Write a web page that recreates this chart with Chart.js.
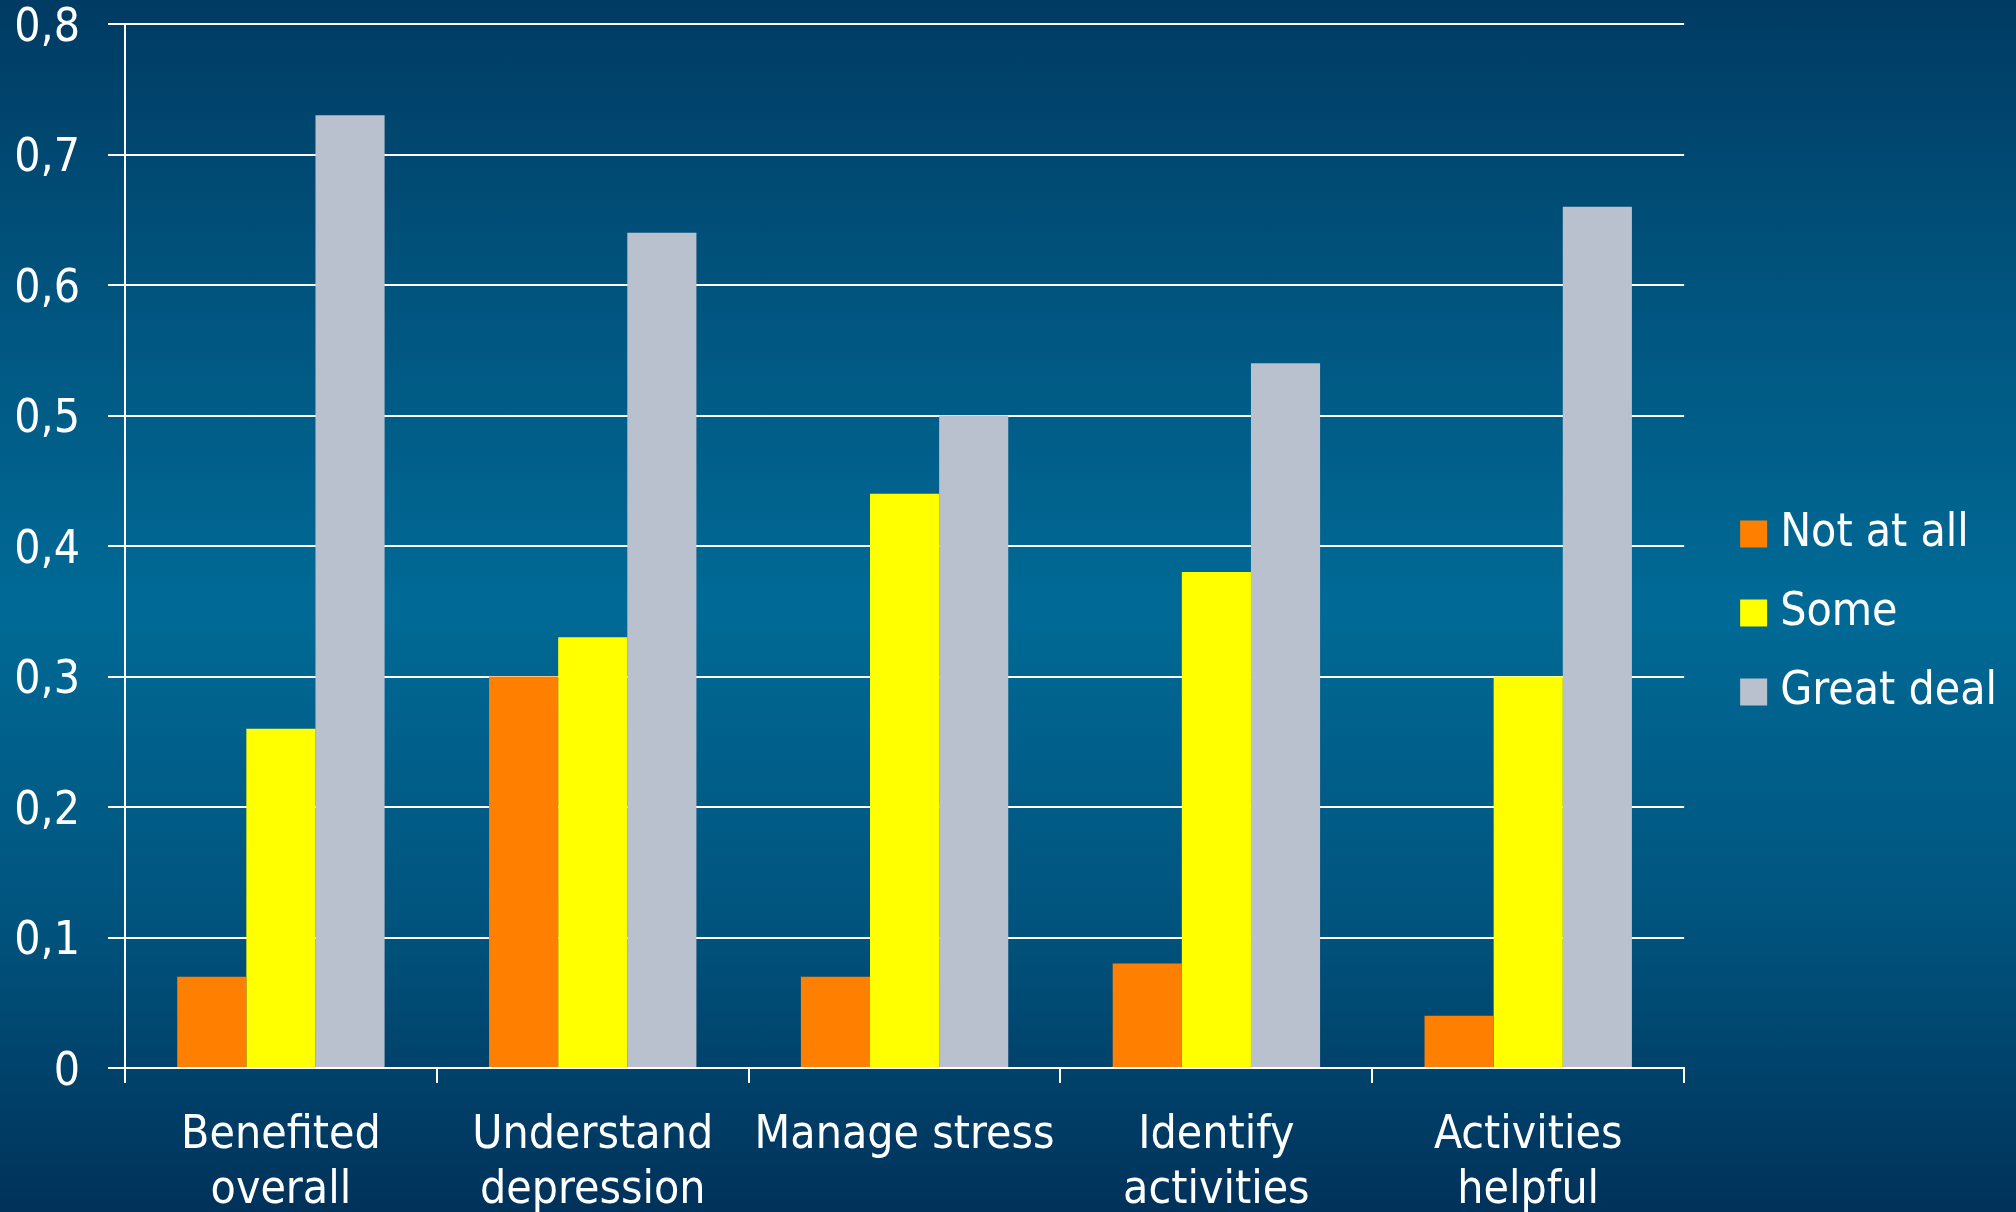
<!DOCTYPE html>
<html>
<head>
<meta charset="utf-8">
<script src="https://cdn.jsdelivr.net/npm/chart.js@4/dist/chart.umd.min.js"></script>
<style>
  html, body { margin: 0; padding: 0; }
  body {
    width: 2016px; height: 1212px; overflow: hidden;
    background: linear-gradient(to bottom, #003b63 0%, #00557f 25%, #006a96 50%, #00557f 75%, #00325a 100%);
  }
  canvas { display: block; }
</style>
</head>
<body>
<canvas id="myChart" width="2016" height="1212"></canvas>
<script>
// Categories and series values
const categories = [
  ['Benefited', 'overall'],
  ['Understand', 'depression'],
  'Manage stress',
  ['Identify', 'activities'],
  ['Activities', 'helpful'],
];
const seriesNames = ['Not at all', 'Some', 'Great deal'];
const notAtAll = [0.07, 0.30, 0.07, 0.08, 0.04];
const some = [0.26, 0.33, 0.44, 0.38, 0.30];
const greatDeal = [0.73, 0.64, 0.50, 0.54, 0.66];
const seriesColors = ['#ff8000', '#ffff00', '#b9c0ce'];

const fontFamily = '"DejaVu Sans Condensed", "DejaVu Sans", sans-serif';

// Format ticks with a comma decimal
const formatTick = (value) => (value === 0 ? '0' : value.toFixed(1).replace('.', ','));

const ctx = document.getElementById('myChart').getContext('2d');

new Chart(ctx, {
  type: 'bar',
  data: {
    labels: categories,
    datasets: [notAtAll, some, greatDeal].map((values, i) => ({
      label: seriesNames[i],
      data: values,
      backgroundColor: seriesColors[i],
      borderWidth: 0,
      barPercentage: 1,
      categoryPercentage: 0.665,
    })),
  },
  options: {
    responsive: false,
    devicePixelRatio: 1,
    animation: false,
    layout: { padding: { top: 14, right: 9 } },
    plugins: {
      tooltip: { enabled: false },
      legend: {
        position: 'right',
        labels: {
          color: '#ffffff',
          font: { family: fontFamily, size: 46 },
          usePointStyle: true,
          pointStyle: 'rect',
          boxWidth: 7,
          boxHeight: 27,
          padding: 33,
        },
      },
    },
    scales: {
      x: {
        grid: {
          display: true,
          drawOnChartArea: false,
          drawTicks: true,
          tickLength: 15,
          color: '#ffffff',
          lineWidth: 2,
          offset: true,
        },
        border: { display: true, color: '#ffffff', width: 2 },
        ticks: {
          color: '#ffffff',
          font: { family: fontFamily, size: 46, lineHeight: 1.2 },
          padding: 25,
          maxRotation: 0,
          autoSkip: false,
        },
        afterFit: (scale) => { scale.height = 144; },
      },
      y: {
        min: 0,
        max: 0.8,
        grid: {
          color: '#ffffff',
          lineWidth: 2,
          tickLength: 17,
          drawTicks: true,
        },
        border: { display: true, color: '#ffffff', width: 2 },
        ticks: {
          stepSize: 0.1,
          color: '#ffffff',
          font: { family: fontFamily, size: 46 },
          padding: 28,
          labelOffset: 5,
          callback: formatTick,
        },
        afterFit: (scale) => {
          scale.width = 125;
          scale.paddingTop = 24;
        },
      },
      // empty spacer between plot and legend
      gap: {
        type: 'linear',
        position: 'right',
        display: true,
        grid: { display: false },
        border: { display: false },
        ticks: { display: false },
        afterFit: (scale) => { scale.width = 33; },
      },
    },
  },
});
</script>
</body>
</html>
